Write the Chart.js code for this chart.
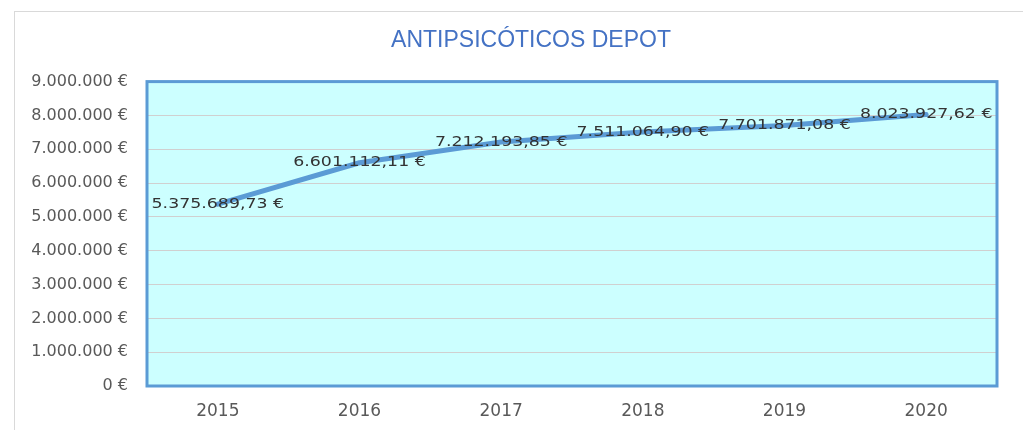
<!DOCTYPE html>
<html>
<head>
<meta charset="utf-8">
<script src="https://cdn.jsdelivr.net/npm/chart.js@4"></script>
<style>
  html, body { margin: 0; padding: 0; background: #ffffff; overflow: hidden; width: 1023px; height: 430px; }
  #frame { position: absolute; left: 14px; top: 11px; width: 1100px; height: 500px; border-top: 1px solid #d9d9d9; border-left: 1px solid #d9d9d9; }
  #c { position: absolute; left: 15px; top: 12px; }
</style>
</head>
<body>
<div id="frame"></div>
<canvas id="c" width="1032" height="418"></canvas>
<script>
const titleText = 'ANTIPSICÓTICOS DEPOT';
const categories = ['2015', '2016', '2017', '2018', '2019', '2020'];
const values = [5375689.73, 6601112.11, 7212193.85, 7511064.90, 7701871.08, 8023927.62];
const yMin = 0;
const yMax = 9000000;
const yStep = 1000000;

function fmtEuro(v, dec) {
  const parts = Number(v).toFixed(dec).split('.');
  parts[0] = parts[0].replace(/\B(?=(\d{3})+(?!\d))/g, '.');
  return parts.join(',') + ' €';
}

const plotDecor = {
  id: 'plotDecor',
  beforeDraw(chart) {
    const { ctx, chartArea: a } = chart;
    ctx.save();
    ctx.fillStyle = '#ccffff';
    ctx.fillRect(a.left, a.top, a.right - a.left, a.bottom - a.top);
    ctx.restore();
  },
  afterDatasetsDraw(chart) {
    const { ctx, chartArea: a } = chart;
    ctx.save();
    ctx.strokeStyle = '#5b9bd5';
    ctx.lineWidth = 3;
    ctx.strokeRect(a.left, a.top, a.right - a.left, a.bottom - a.top);
    const meta = chart.getDatasetMeta(0);
    ctx.fillStyle = '#333333';
    ctx.font = '14px "DejaVu Sans"';
    ctx.textAlign = 'center';
    ctx.textBaseline = 'middle';
    meta.data.forEach((pt, i) => {
      ctx.save();
      ctx.translate(pt.x, pt.y);
      ctx.scale(1.24, 1);
      ctx.fillText(fmtEuro(values[i], 2), 0, 0);
      ctx.restore();
    });
    ctx.restore();
  }
};

new Chart(document.getElementById('c'), {
  type: 'line',
  data: {
    labels: categories,
    datasets: [{
      data: values,
      yAxisID: 'y',
      borderColor: '#5b9bd5',
      borderWidth: 5,
      borderCapStyle: 'round',
      borderJoinStyle: 'round',
      pointRadius: 0,
      tension: 0,
      fill: false
    }]
  },
  options: {
    responsive: false,
    animation: false,
    layout: { padding: { left: 0, right: 0, top: 0, bottom: 0 } },
    plugins: {
      legend: { display: false },
      tooltip: { enabled: false },
      title: {
        display: true,
        text: titleText,
        color: '#4472c4',
        font: { family: '"Liberation Sans", Arial, sans-serif', size: 23, weight: 'normal' },
        padding: { top: 15, bottom: 27 }
      }
    },
    scales: {
      x: {
        offset: true,
        grid: { display: false, drawTicks: false },
        border: { display: false },
        ticks: { color: '#595959', font: { family: '"DejaVu Sans"', size: 17 }, padding: 15, maxRotation: 0 },
        afterFit(scale) { scale.height = 44; }
      },
      y: {
        position: 'left',
        min: yMin,
        max: yMax,
        grid: { color: '#d0d0d0', lineWidth: 1, drawTicks: false },
        border: { display: false },
        ticks: {
          stepSize: yStep,
          color: '#595959',
          font: { family: '"DejaVu Sans"', size: 16 },
          padding: 19,
          callback: (v) => fmtEuro(v, 0)
        },
        afterFit(scale) { scale.width = 132; }
      },
      yRight: {
        position: 'right',
        display: true,
        min: yMin,
        max: yMax,
        grid: { display: false, drawTicks: false },
        border: { display: false },
        ticks: { display: false },
        afterFit(scale) { scale.width = 50; }
      }
    }
  },
  plugins: [plotDecor]
});
</script>
</body>
</html>
